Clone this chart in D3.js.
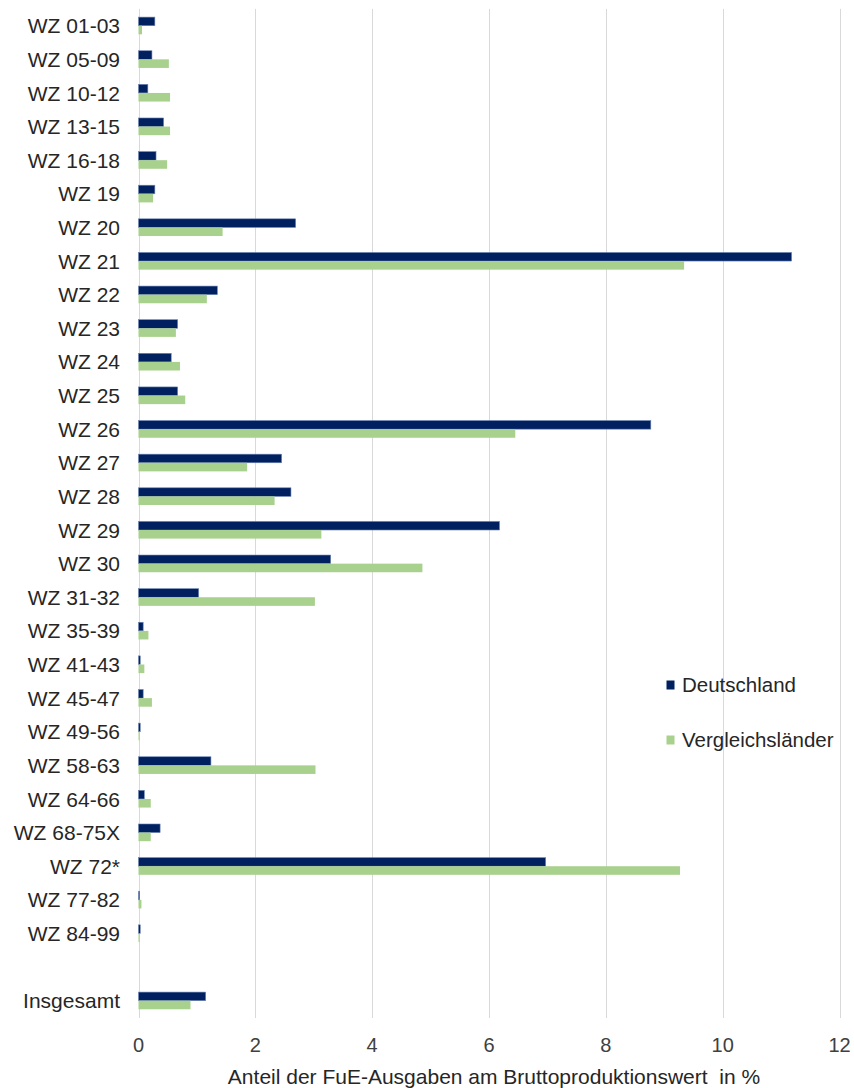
<!DOCTYPE html>
<html>
<head>
<meta charset="utf-8">
<script src="https://cdn.jsdelivr.net/npm/d3@7"></script>
<style>
  html, body { margin: 0; padding: 0; background: #fff; }
  svg { display: block; font-family: "Liberation Sans", Arial, sans-serif; }
</style>
</head>
<body>
<svg id="chart" width="854" height="1088"></svg>
<script>
const categories = ["WZ 01-03","WZ 05-09","WZ 10-12","WZ 13-15","WZ 16-18","WZ 19","WZ 20","WZ 21","WZ 22","WZ 23","WZ 24","WZ 25","WZ 26","WZ 27","WZ 28","WZ 29","WZ 30","WZ 31-32","WZ 35-39","WZ 41-43","WZ 45-47","WZ 49-56","WZ 58-63","WZ 64-66","WZ 68-75X","WZ 72*","WZ 77-82","WZ 84-99","","Insgesamt"];
const deutschland = [0.28,0.23,0.16,0.43,0.30,0.28,2.69,11.18,1.35,0.67,0.56,0.67,8.77,2.45,2.61,6.18,3.29,1.03,0.08,0.03,0.08,0.03,1.24,0.10,0.37,6.97,0.02,0.03,null,1.15];
const vergleich = [0.06,0.52,0.54,0.54,0.49,0.25,1.44,9.34,1.17,0.64,0.71,0.80,6.45,1.86,2.33,3.13,4.86,3.02,0.17,0.10,0.23,0.02,3.03,0.21,0.21,9.27,0.05,0.02,null,0.89];
const xTicks = [0,2,4,6,8,10,12];
const seriesNames = ["Deutschland","Vergleichsländer"];
const colors = ["#002060","#A9D18E"];
const axisTitle = "Anteil der FuE-Ausgaben am Bruttoproduktionswert  in %";

const svg = d3.select("#chart");
const keys = categories.map((c,i)=> c === "" ? "__gap" + i : c);

const x = d3.scaleLinear().domain([0,12]).range([138.5, 839.5]);
const y = d3.scaleBand().domain(keys).range([8.9, 1017.5]).paddingInner(0).paddingOuter(0);
const sub = d3.scaleBand().domain([0,1]).range([0, y.bandwidth()]).paddingInner(0).paddingOuter(0.955);

// gridlines
svg.append("g").selectAll("line").data(xTicks).join("line")
  .attr("x1", d=>Math.round(x(d))+0.5).attr("x2", d=>Math.round(x(d))+0.5)
  .attr("y1", 8.9).attr("y2", 1018)
  .attr("stroke", "#d9d9d9").attr("stroke-width", 1);

// x tick labels
svg.append("g").selectAll("text").data(xTicks).join("text")
  .attr("x", d=>x(d)).attr("y", 1052)
  .attr("text-anchor","middle").attr("font-size", 20).attr("fill","#404040")
  .text(d=>d);

// bars
const rows = categories.map((c,i)=>({key: keys[i], vals:[deutschland[i], vergleich[i]]}));
const g = svg.append("g");
rows.forEach(r=>{
  r.vals.forEach((v,j)=>{
    if (v === null) return;
    g.append("rect")
      .attr("x", x(0))
      .attr("y", y(r.key) + sub(j))
      .attr("width", x(v) - x(0))
      .attr("height", sub.bandwidth())
      .attr("fill", colors[j])
      .attr("stroke", j === 0 ? "#6f86b3" : "none")
      .attr("stroke-width", j === 0 ? 0.6 : 0);
  });
});

// category labels
svg.append("g").selectAll("text").data(categories.map((c,i)=>({c, k: keys[i]})).filter(d=>d.c!=="")).join("text")
  .attr("x", 120).attr("y", d=>y(d.k)+y.bandwidth()/2)
  .attr("dy","0.36em")
  .attr("text-anchor","end").attr("font-size", 21).attr("fill","#262626")
  .text(d=>d.c);

// axis title
svg.append("text")
  .attr("x", 494).attr("y", 1084)
  .attr("text-anchor","middle").attr("font-size", 21).attr("fill","#262626")
  .style("white-space","pre")
  .text(axisTitle);

// legend
const leg = svg.append("g");
seriesNames.forEach((n,i)=>{
  const cy = 685 + i*55;
  leg.append("rect").attr("x", 666.5).attr("y", cy-4.5).attr("width", 8).attr("height", 9).attr("fill", colors[i]);
  leg.append("text").attr("x", 682).attr("y", cy).attr("dy","0.36em")
    .attr("font-size", 20.5).attr("fill","#262626").text(n);
});
</script>
</body>
</html>
